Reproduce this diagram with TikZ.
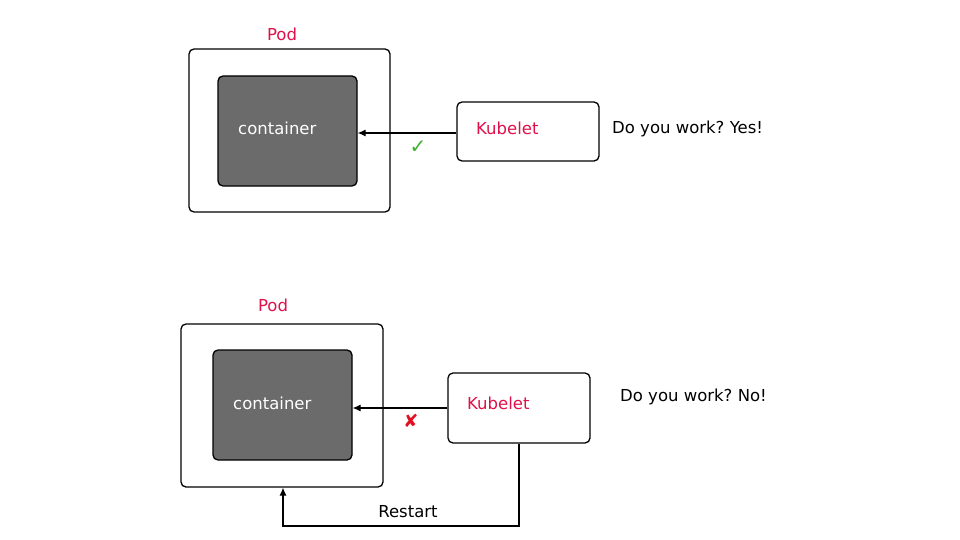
\documentclass[tikz,border=0pt]{standalone}
\usepackage{fontspec}
\setmainfont{DejaVu Sans}
\newfontfamily\symfont{DejaVu Sans}
\usetikzlibrary{arrows.meta}
\definecolor{podred}{HTML}{E0104A}
\definecolor{contgray}{HTML}{6B6B6B}
\definecolor{okgreen}{HTML}{40B030}
\definecolor{badred}{HTML}{E01020}
\frenchspacing
\begin{document}
\begin{tikzpicture}[x=1pt,y=-1pt,
  box/.style={draw=black,line width=1.3pt,rounded corners=5pt,inner sep=0pt},
  podbox/.style={box,fill=white},
  contbox/.style={box,fill=contgray},
  lbl/.style={font=\fontsize{16.5}{19}\selectfont,inner sep=0pt},
  redlbl/.style={lbl,text=podred},
  conn/.style={line width=1.1pt,-{Latex[length=8pt,width=7pt]}}]
\useasboundingbox[fill=white] (0,0) rectangle (960,540);
% top
\node[podbox,minimum width=201pt,minimum height=163pt] (pod1) at (289.5,130.5) {};
\node[contbox,minimum width=139pt,minimum height=110pt] (c1) at (287.5,131) {};
\node[lbl,text=white,anchor=west] (ct1) at (238,128) {container};
\node[redlbl] (pl1) at (282,34) {Pod};
\node[box,minimum width=142pt,minimum height=59pt] (k1) at (528,131.5) {};
\node[redlbl,anchor=west] (kl1) at (476,128) {Kubelet};
\node[lbl,anchor=west] (q1) at (612,129) {Do you work? Yes!};
\draw[conn] (k1.west |- 0,133) -- (c1.east |- 0,133);
\node[lbl,text=okgreen,font=\symfont\fontsize{20}{22}\selectfont] (ok) at (418,147) {✓};
% bottom
\node[podbox,minimum width=202pt,minimum height=163pt] (pod2) at (282,405.5) {};
\node[contbox,minimum width=139pt,minimum height=110pt] (c2) at (282.5,405) {};
\node[lbl,text=white,anchor=west] (ct2) at (233,403) {container};
\node[redlbl] (pl2) at (273,305) {Pod};
\node[box,minimum width=142pt,minimum height=70pt] (k2) at (519,408) {};
\node[redlbl,anchor=west] (kl2) at (467,403) {Kubelet};
\node[lbl,anchor=west] (q2) at (620,397) {Do you work? No!};
\draw[conn] (k2.west) -- (c2.east |- k2.west);
\node[lbl,text=badred,font=\symfont\bfseries\fontsize{18}{20}\selectfont] (bad) at (411,421) {✘};
\coordinate (r1) at (519,526);
\coordinate (r2) at (283,526);
\draw[conn] (k2.south) -- (r1) -- (r2) -- (r2 |- pod2.south);
\node[lbl] (rs) at (408,512) {Restart};
\end{tikzpicture}
\end{document}
